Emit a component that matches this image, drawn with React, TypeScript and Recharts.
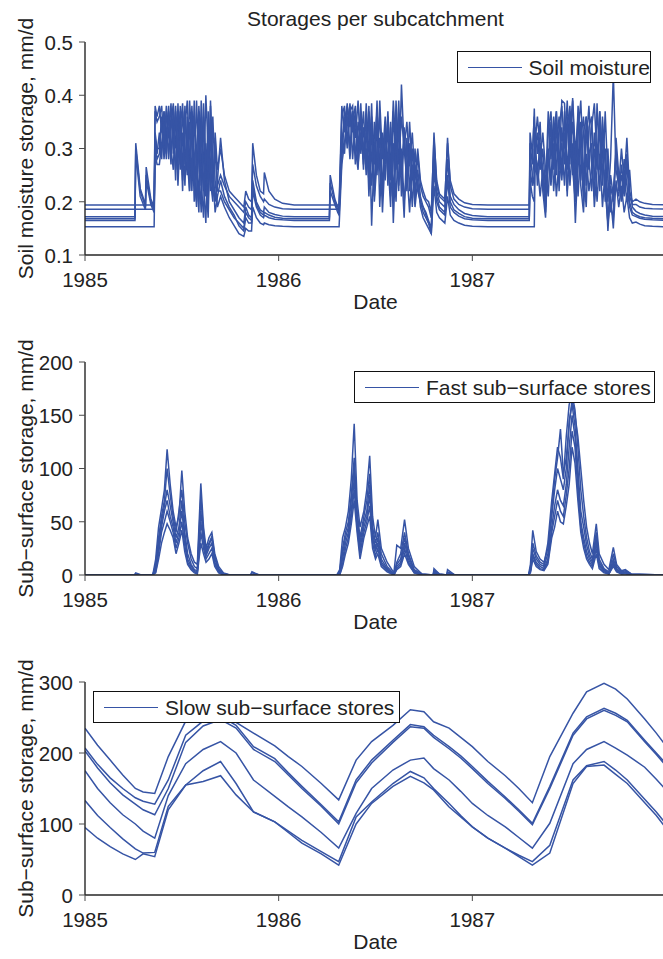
import React from "react";
import { LineChart, Line, XAxis, YAxis } from "recharts";

const LINE_COLOR = "#3654a5";
const INK = "#222222";
const FONT = "'Liberation Sans', Arial, Helvetica, sans-serif";

// panel geometry (px, relative to each panel)
const PANEL_H = 320;
const CHART_W = 690;
const PLOT_LEFT = 85;
const PLOT_RIGHT = 666;
const PLOT_TOP = 42;
const PLOT_BOTTOM = 255;

const X_DOMAIN: [number, number] = [1985, 1988];
const YEAR_TICKS = [1985, 1986, 1987];
const SERIES_KEYS = ["s1", "s2", "s3", "s4", "s5", "s6"];

// ---- soil moisture storage (decimal year, mm/d) ----
const smDates = [
  1985.0, 1985.258, 1985.262, 1985.285, 1985.312, 1985.316, 1985.34, 1985.357, 1985.362, 1985.372,
  1985.384, 1985.396, 1985.408, 1985.42, 1985.432, 1985.444, 1985.456, 1985.468, 1985.48, 1985.492,
  1985.504, 1985.516, 1985.528, 1985.54, 1985.552, 1985.564, 1985.576, 1985.588, 1985.6, 1985.612,
  1985.624, 1985.636, 1985.648, 1985.66, 1985.672, 1985.684,
  1985.7, 1985.72, 1985.745, 1985.77, 1985.795, 1985.82, 1985.83, 1985.845, 1985.86, 1985.866,
  1985.885, 1985.905, 1985.922, 1985.926, 1985.95, 1985.98, 1986.02, 1986.08,
  1986.2, 1986.262, 1986.266, 1986.29, 1986.305, 1986.312,
  1986.326, 1986.34, 1986.354, 1986.368, 1986.382, 1986.396, 1986.41, 1986.424, 1986.438, 1986.452,
  1986.466, 1986.48, 1986.494, 1986.508, 1986.522, 1986.536, 1986.55, 1986.564, 1986.578, 1986.592,
  1986.606, 1986.62, 1986.634, 1986.648, 1986.662, 1986.676, 1986.69, 1986.704, 1986.718, 1986.732,
  1986.746, 1986.76, 1986.774, 1986.788, 1986.802, 1986.816, 1986.83, 1986.844, 1986.858, 1986.872,
  1986.886,
  1986.905, 1986.93, 1986.96, 1987.0, 1987.08,
  1987.2, 1987.294, 1987.298, 1987.31, 1987.32, 1987.324,
  1987.336, 1987.35, 1987.364, 1987.378, 1987.392, 1987.406, 1987.42, 1987.434, 1987.448, 1987.462,
  1987.476, 1987.49, 1987.504, 1987.518, 1987.532, 1987.546, 1987.56, 1987.574, 1987.588, 1987.602,
  1987.616, 1987.63, 1987.644, 1987.658, 1987.672, 1987.686, 1987.7, 1987.714, 1987.728, 1987.742,
  1987.756, 1987.77, 1987.784, 1987.798, 1987.812, 1987.826,
  1987.845, 1987.865, 1987.89, 1987.93, 1988.0,
];

const sm1 = [
  0.194, 0.194, 0.194, 0.194, 0.194, 0.194, 0.194, 0.194, 0.38, 0.36,
  0.38, 0.33, 0.37, 0.31, 0.36, 0.34, 0.385, 0.3, 0.36, 0.26,
  0.37, 0.3, 0.25, 0.39, 0.31, 0.24, 0.2, 0.38, 0.29, 0.22,
  0.4, 0.3, 0.24, 0.2, 0.33, 0.26,
  0.3, 0.25, 0.22, 0.21, 0.2, 0.19, 0.22, 0.205, 0.2, 0.31,
  0.25, 0.22, 0.215, 0.255, 0.22, 0.205, 0.197, 0.194,
  0.194, 0.194, 0.194, 0.194, 0.194, 0.194,
  0.38, 0.33, 0.385, 0.3, 0.37, 0.32, 0.39, 0.29, 0.34,
  0.25, 0.37, 0.28, 0.21, 0.36, 0.27, 0.33, 0.24,
  0.36, 0.26, 0.39, 0.29, 0.22, 0.42, 0.3, 0.35, 0.27, 0.33,
  0.24, 0.3, 0.24, 0.22, 0.205, 0.2, 0.18,
  0.32, 0.24, 0.215, 0.21, 0.205, 0.31, 0.24,
  0.215, 0.205, 0.198, 0.195, 0.194,
  0.194, 0.194, 0.33, 0.29, 0.36, 0.3,
  0.33, 0.26, 0.3, 0.22, 0.37, 0.28, 0.36, 0.25, 0.34, 0.38,
  0.3, 0.39, 0.27, 0.395, 0.29, 0.36, 0.24, 0.33, 0.36, 0.26,
  0.34, 0.385, 0.28, 0.37, 0.25, 0.3, 0.2, 0.28, 0.44, 0.26,
  0.23, 0.3, 0.24, 0.32, 0.22, 0.2,
  0.205, 0.2, 0.197, 0.195, 0.194,
];

const sm2 = [
  0.186, 0.186, 0.186, 0.186, 0.186, 0.186, 0.186, 0.186, 0.37, 0.35,
  0.36, 0.38, 0.3, 0.37, 0.32, 0.385, 0.29, 0.36, 0.27, 0.38,
  0.24, 0.34, 0.39, 0.28, 0.22, 0.36, 0.27, 0.21, 0.39, 0.28,
  0.21, 0.37, 0.27, 0.21, 0.3, 0.23,
  0.25, 0.23, 0.21, 0.2, 0.19, 0.18, 0.2, 0.19, 0.185, 0.27,
  0.23, 0.21, 0.2, 0.205, 0.195, 0.19, 0.187, 0.186,
  0.186, 0.186, 0.186, 0.186, 0.186, 0.186,
  0.36, 0.38, 0.31, 0.385, 0.33, 0.37, 0.28, 0.36, 0.26,
  0.385, 0.29, 0.23, 0.35, 0.25, 0.39, 0.28, 0.36,
  0.25, 0.34, 0.2, 0.39, 0.27, 0.36, 0.3, 0.24, 0.35, 0.26,
  0.2, 0.29, 0.23, 0.21, 0.2, 0.19, 0.17,
  0.33, 0.23, 0.21, 0.205, 0.2, 0.32, 0.23,
  0.205, 0.195, 0.19, 0.187, 0.186,
  0.186, 0.186, 0.31, 0.27, 0.375, 0.31,
  0.36, 0.3, 0.24, 0.19, 0.33, 0.37, 0.27, 0.37, 0.26, 0.39,
  0.385, 0.26, 0.33, 0.39, 0.24, 0.38, 0.3, 0.2, 0.36, 0.28,
  0.22, 0.33, 0.26, 0.37, 0.29, 0.22, 0.16, 0.25, 0.21, 0.23,
  0.21, 0.27, 0.22, 0.29, 0.21, 0.195,
  0.195, 0.19, 0.188, 0.187, 0.186,
];

const sm3 = [
  0.172, 0.172, 0.31, 0.225, 0.195, 0.265, 0.205, 0.19, 0.33, 0.3,
  0.3, 0.36, 0.28, 0.33, 0.38, 0.29, 0.35, 0.24, 0.385, 0.27,
  0.33, 0.23, 0.36, 0.26, 0.38, 0.27, 0.19, 0.33, 0.23, 0.385,
  0.27, 0.2, 0.39, 0.27, 0.2, 0.24,
  0.32, 0.24, 0.2, 0.185, 0.17, 0.16, 0.19, 0.175, 0.17, 0.24,
  0.2, 0.185, 0.18, 0.19, 0.18, 0.176, 0.173, 0.172,
  0.172, 0.172, 0.25, 0.205, 0.19, 0.185,
  0.3, 0.37, 0.35, 0.38, 0.28, 0.36, 0.3, 0.385, 0.27,
  0.33, 0.26, 0.385, 0.22, 0.3, 0.36, 0.22, 0.33,
  0.28, 0.19, 0.37, 0.26, 0.39, 0.25, 0.34, 0.22, 0.31, 0.24,
  0.27, 0.22, 0.2, 0.19, 0.18, 0.165, 0.15,
  0.3, 0.22, 0.2, 0.195, 0.19, 0.28, 0.21,
  0.195, 0.185, 0.178, 0.174, 0.172,
  0.172, 0.172, 0.29, 0.25, 0.23, 0.34,
  0.29, 0.35, 0.22, 0.17, 0.3, 0.24, 0.33, 0.37, 0.22, 0.34,
  0.27, 0.36, 0.23, 0.31, 0.16, 0.28, 0.35, 0.22, 0.31, 0.38,
  0.27, 0.21, 0.385, 0.26, 0.33, 0.2, 0.3, 0.18, 0.22, 0.29,
  0.24, 0.2, 0.25, 0.2, 0.26, 0.19,
  0.182, 0.178, 0.175, 0.173, 0.172,
];

const sm4 = [
  0.168, 0.168, 0.3, 0.22, 0.19, 0.25, 0.2, 0.185, 0.32, 0.29,
  0.33, 0.28, 0.37, 0.29, 0.34, 0.27, 0.38, 0.26, 0.31, 0.37,
  0.25, 0.38, 0.28, 0.22, 0.37, 0.25, 0.39, 0.27, 0.18, 0.36,
  0.24, 0.17, 0.34, 0.23, 0.32, 0.22,
  0.22, 0.2, 0.185, 0.17, 0.16, 0.15, 0.18, 0.17, 0.165, 0.23,
  0.195, 0.18, 0.175, 0.18, 0.175, 0.171, 0.169, 0.168,
  0.168, 0.168, 0.235, 0.2, 0.185, 0.18,
  0.33, 0.29, 0.38, 0.34, 0.37, 0.27, 0.35, 0.31, 0.37,
  0.26, 0.38, 0.155, 0.3, 0.37, 0.26, 0.21, 0.35,
  0.23, 0.35, 0.16, 0.3, 0.36, 0.21, 0.33, 0.25, 0.28, 0.19,
  0.3, 0.23, 0.2, 0.18, 0.17, 0.16, 0.14,
  0.28, 0.21, 0.19, 0.185, 0.18, 0.25, 0.2,
  0.185, 0.178, 0.172, 0.169, 0.168,
  0.168, 0.168, 0.26, 0.23, 0.3, 0.26,
  0.25, 0.31, 0.26, 0.21, 0.27, 0.35, 0.22, 0.3, 0.36, 0.25,
  0.37, 0.22, 0.3, 0.35, 0.2, 0.33, 0.39, 0.26, 0.19, 0.34,
  0.36, 0.24, 0.3, 0.22, 0.36, 0.27, 0.145, 0.23, 0.2, 0.3,
  0.22, 0.25, 0.21, 0.27, 0.2, 0.18,
  0.175, 0.172, 0.17, 0.169, 0.168,
];

const sm5 = [
  0.165, 0.165, 0.29, 0.21, 0.185, 0.24, 0.195, 0.18, 0.31, 0.28,
  0.29, 0.35, 0.3, 0.38, 0.28, 0.36, 0.31, 0.37, 0.23, 0.34,
  0.385, 0.27, 0.33, 0.22, 0.36, 0.2, 0.3, 0.37, 0.24, 0.17,
  0.31, 0.23, 0.38, 0.25, 0.18, 0.21,
  0.24, 0.21, 0.19, 0.175, 0.155, 0.145, 0.17, 0.16, 0.16, 0.22,
  0.19, 0.175, 0.17, 0.175, 0.17, 0.167, 0.166, 0.165,
  0.165, 0.165, 0.22, 0.195, 0.18, 0.175,
  0.28, 0.36, 0.3, 0.37, 0.38, 0.3, 0.26, 0.37, 0.29,
  0.36, 0.21, 0.33, 0.27, 0.39, 0.19, 0.31, 0.27,
  0.37, 0.24, 0.31, 0.2, 0.34, 0.27, 0.17, 0.32, 0.22, 0.3,
  0.22, 0.26, 0.21, 0.19, 0.175, 0.16, 0.15,
  0.26, 0.2, 0.185, 0.18, 0.175, 0.24, 0.19,
  0.18, 0.173, 0.168, 0.166, 0.165,
  0.165, 0.165, 0.24, 0.21, 0.2, 0.33,
  0.23, 0.28, 0.33, 0.26, 0.21, 0.32, 0.26, 0.34, 0.28, 0.31,
  0.23, 0.34, 0.38, 0.25, 0.3, 0.21, 0.32, 0.36, 0.23, 0.29,
  0.31, 0.19, 0.26, 0.34, 0.23, 0.37, 0.24, 0.19, 0.17, 0.32,
  0.25, 0.21, 0.28, 0.23, 0.19, 0.175,
  0.172, 0.169, 0.167, 0.166, 0.165,
];

const sm6 = [
  0.153, 0.153, 0.153, 0.153, 0.153, 0.153, 0.153, 0.153, 0.29, 0.27,
  0.27, 0.31, 0.35, 0.28, 0.37, 0.3, 0.26, 0.38, 0.29, 0.35,
  0.22, 0.37, 0.26, 0.35, 0.24, 0.39, 0.25, 0.18, 0.35, 0.23,
  0.16, 0.33, 0.22, 0.36, 0.24, 0.19,
  0.21, 0.19, 0.17, 0.155, 0.14, 0.135, 0.15, 0.145, 0.145, 0.19,
  0.17, 0.16, 0.157, 0.16, 0.157, 0.155, 0.154, 0.153,
  0.153, 0.153, 0.153, 0.153, 0.153, 0.153,
  0.27, 0.31, 0.36, 0.28, 0.35, 0.38, 0.27, 0.33, 0.28,
  0.3, 0.24, 0.36, 0.2, 0.28, 0.32, 0.18, 0.29,
  0.33, 0.21, 0.28, 0.36, 0.23, 0.3, 0.2, 0.26, 0.18, 0.27,
  0.19, 0.24, 0.19, 0.17, 0.16, 0.15, 0.14,
  0.23, 0.18, 0.17, 0.165, 0.16, 0.21, 0.175,
  0.165, 0.16, 0.156, 0.154, 0.153,
  0.153, 0.153, 0.153, 0.153, 0.153, 0.29,
  0.27, 0.21, 0.26, 0.18, 0.29, 0.23, 0.31, 0.21, 0.28, 0.24,
  0.33, 0.21, 0.37, 0.26, 0.2, 0.29, 0.23, 0.18, 0.29, 0.22,
  0.26, 0.3, 0.2, 0.29, 0.19, 0.26, 0.16, 0.21, 0.15, 0.24,
  0.19, 0.23, 0.18, 0.21, 0.17, 0.16,
  0.162, 0.158, 0.155, 0.154, 0.153,
];

// ---- fast sub-surface stores ----
const fsDates = [
  1985.0, 1985.255, 1985.262, 1985.29, 1985.35, 1985.365, 1985.38, 1985.395, 1985.41, 1985.424,
  1985.44, 1985.455, 1985.47, 1985.485, 1985.5, 1985.515, 1985.53, 1985.548, 1985.565, 1985.58,
  1985.598, 1985.612, 1985.625, 1985.64, 1985.655, 1985.67, 1985.69, 1985.715, 1985.75, 1985.855,
  1985.862, 1985.9, 1986.3, 1986.315, 1986.33, 1986.345, 1986.36, 1986.375, 1986.39, 1986.405,
  1986.42, 1986.44, 1986.455, 1986.47, 1986.485, 1986.5, 1986.512, 1986.53, 1986.56, 1986.595,
  1986.61, 1986.63, 1986.65, 1986.67, 1986.7, 1986.74, 1986.798, 1986.802, 1986.83, 1986.868,
  1986.872, 1986.91, 1987.29, 1987.3, 1987.312, 1987.33, 1987.35, 1987.37, 1987.39, 1987.41,
  1987.425, 1987.44, 1987.455, 1987.47, 1987.485, 1987.5, 1987.515, 1987.53, 1987.545, 1987.56,
  1987.575, 1987.59, 1987.605, 1987.62, 1987.64, 1987.655, 1987.68, 1987.705, 1987.728, 1987.745,
  1987.77, 1987.79, 1987.82, 1988.0,
];

const fs1 = [
  0, 0, 2, 0, 0, 15, 45, 62, 80, 118,
  85, 60, 45, 55, 98, 60, 35, 20, 12, 10,
  86, 45, 25, 35, 40, 20, 8, 2, 0, 0,
  3, 0, 0, 5, 35, 45, 60, 90, 142, 70,
  45, 60, 80, 112, 55, 35, 52, 25, 12, 2,
  28, 25, 52, 25, 8, 1, 0, 6, 1, 0,
  5, 0, 0, 10, 42, 22, 15, 12, 25, 60,
  90, 110, 137, 95, 110, 140, 165, 150, 130, 100,
  70, 45, 30, 20, 48, 20, 10, 5, 26, 10,
  4, 5, 1, 0,
];

const fs2 = [
  0, 0, 1, 0, 0, 10, 35, 55, 70, 100,
  75, 55, 40, 60, 80, 50, 30, 15, 8, 6,
  73, 40, 22, 30, 36, 18, 6, 1, 0, 0,
  2, 0, 0, 3, 25, 40, 50, 75, 110, 60,
  35, 55, 70, 95, 45, 30, 40, 20, 8, 1,
  12, 20, 40, 20, 5, 1, 0, 4, 1, 0,
  3, 0, 0, 6, 30, 18, 12, 10, 30, 70,
  95, 120, 110, 90, 130, 160, 170, 155, 120, 80,
  55, 35, 22, 15, 40, 15, 6, 3, 20, 8,
  3, 4, 1, 0,
];

const fs3 = [
  0, 0, 0, 0, 0, 8, 30, 50, 65, 80,
  65, 50, 35, 45, 70, 40, 20, 10, 5, 4,
  60, 35, 20, 28, 35, 15, 5, 1, 0, 0,
  0, 0, 0, 2, 20, 35, 45, 70, 100, 55,
  30, 50, 60, 85, 40, 25, 35, 15, 6, 0,
  10, 15, 35, 18, 4, 0, 0, 3, 0, 0,
  2, 0, 0, 5, 25, 15, 10, 8, 20, 55,
  80, 100, 90, 80, 100, 145, 160, 140, 100, 60,
  45, 28, 18, 12, 35, 12, 5, 2, 15, 6,
  2, 3, 0, 0,
];

const fs4 = [
  0, 0, 0, 0, 0, 5, 25, 45, 60, 70,
  55, 45, 30, 40, 60, 35, 15, 8, 4, 3,
  50, 30, 18, 25, 30, 12, 4, 0, 0, 0,
  0, 0, 0, 1, 15, 30, 40, 60, 90, 50,
  25, 45, 55, 75, 35, 22, 30, 12, 5, 0,
  8, 12, 30, 15, 3, 0, 0, 2, 0, 0,
  1, 0, 0, 4, 20, 12, 8, 6, 15, 45,
  65, 80, 70, 65, 85, 120, 150, 130, 90, 50,
  35, 22, 15, 10, 30, 10, 4, 1, 12, 5,
  2, 2, 0, 0,
];

const fs5 = [
  0, 0, 0, 0, 0, 3, 20, 40, 50, 60,
  50, 40, 25, 35, 50, 28, 12, 6, 3, 2,
  40, 25, 15, 20, 25, 10, 3, 0, 0, 0,
  0, 0, 0, 0, 10, 25, 35, 55, 80, 45,
  20, 40, 50, 65, 30, 18, 25, 10, 4, 0,
  6, 10, 25, 12, 2, 0, 0, 1, 0, 0,
  1, 0, 0, 3, 18, 10, 6, 5, 12, 40,
  55, 70, 60, 55, 75, 100, 135, 120, 80, 45,
  30, 18, 12, 8, 25, 8, 3, 1, 10, 4,
  1, 2, 0, 0,
];

const fs6 = [
  0, 0, 0, 0, 0, 2, 15, 30, 40, 48,
  42, 35, 20, 30, 42, 22, 10, 5, 2, 1,
  30, 20, 12, 15, 20, 8, 2, 0, 0, 0,
  0, 0, 0, 0, 8, 20, 30, 48, 70, 40,
  15, 35, 45, 55, 25, 15, 20, 8, 3, 0,
  5, 8, 20, 10, 2, 0, 0, 1, 0, 0,
  0, 0, 0, 2, 15, 8, 5, 4, 10, 35,
  45, 60, 50, 48, 65, 85, 120, 105, 70, 40,
  25, 15, 10, 6, 20, 6, 2, 1, 8, 3,
  1, 1, 0, 0,
];

// ---- slow sub-surface stores ----
const slDates = [
  1985.0, 1985.065, 1985.13, 1985.195, 1985.26, 1985.3, 1985.36, 1985.43, 1985.52, 1985.61,
  1985.7, 1985.78, 1985.87, 1985.98, 1986.05, 1986.12, 1986.22, 1986.31, 1986.4, 1986.48,
  1986.59, 1986.68, 1986.75, 1986.8, 1986.88, 1986.94, 1987.0, 1987.08, 1987.17, 1987.24,
  1987.31, 1987.4, 1987.52, 1987.59, 1987.68, 1987.74, 1987.8, 1987.89, 1987.95, 1988.0,
];

const sl1 = [
  235, 211, 190, 169, 150, 145, 143, 195, 245, 262,
  268, 243, 228, 210, 195, 181, 157, 134, 190, 216,
  239, 261, 258, 244, 235, 222, 209, 188, 168, 150,
  130, 195, 256, 286, 298, 290, 276, 248, 228, 210,
];
const sl2 = [
  207, 184, 165, 150, 137, 132, 128, 162, 225, 245,
  252, 239, 209, 192, 172, 153, 127, 103, 162, 190,
  218, 240, 237, 225, 209, 196, 181, 160, 138, 120,
  101, 153, 228, 251, 263, 256, 246, 218, 200, 185,
];
const sl3 = [
  203, 179, 158, 141, 128, 120, 113, 150, 215, 238,
  247, 235, 205, 188, 169, 150, 125, 100, 158, 186,
  215, 237, 235, 222, 206, 193, 178, 157, 136, 118,
  99, 150, 225, 248, 260, 253, 244, 216, 198, 182,
];
const sl4 = [
  175, 150, 130, 113, 100, 90, 80, 140, 185, 205,
  216, 200, 162, 139, 124, 110, 88, 66, 115, 150,
  176, 190, 193, 178, 162, 146, 129, 112, 96, 81,
  66, 101, 185, 205, 216, 207, 197, 180, 163, 148,
];
const sl5 = [
  133, 112, 95, 79, 65, 59, 60, 125, 155, 175,
  188, 157, 117, 103, 90, 77, 61, 47, 110, 131,
  157, 174, 165, 150, 129, 112, 96, 80, 66, 56,
  47, 70, 162, 182, 188, 176, 162, 135, 117, 100,
];
const sl6 = [
  95, 80, 68, 58, 50, 58, 54, 120, 155, 160,
  168, 141, 117, 103, 88, 73, 58, 42, 100, 129,
  153, 167, 158, 148, 124, 110, 96, 80, 66, 54,
  42, 59, 157, 181, 183, 170, 157, 130, 112, 94,
];

type Row = { t: number; [key: string]: number };

function buildRows(dates: number[], series: number[][]): Row[] {
  return dates.map((t, i) => {
    const row: Row = { t };
    series.forEach((values, s) => {
      row[SERIES_KEYS[s]] = values[i];
    });
    return row;
  });
}

const soilRows = buildRows(smDates, [sm1, sm2, sm3, sm4, sm5, sm6]);
const fastRows = buildRows(fsDates, [fs1, fs2, fs3, fs4, fs5, fs6]);
const slowRows = buildRows(slDates, [sl1, sl2, sl3, sl4, sl5, sl6]);

const axisLine = { stroke: "#262626", strokeWidth: 1.4 };
const tickLine = { stroke: "#4a4a4a", strokeWidth: 1 };

function YearTick(props: any) {
  const { x, payload } = props;
  return (
    <text x={x} y={PLOT_BOTTOM + 31.5} textAnchor="middle" fontSize={20.5} fill={INK} fontFamily={FONT}>
      {payload.value}
    </text>
  );
}

function makeValueTick(format: (v: number) => string) {
  return function ValueTick(props: any) {
    const { x, y, payload } = props;
    return (
      <text x={x} y={y} dy="0.38em" textAnchor="end" fontSize={20.5} fill={INK} fontFamily={FONT}>
        {format(payload.value)}
      </text>
    );
  };
}

function YTitle({ text }: { text: string }) {
  const cx = 26;
  const cy = PLOT_TOP + (PLOT_BOTTOM - PLOT_TOP) / 2;
  return (
    <text
      x={cx}
      y={cy}
      dy="0.35em"
      transform={`rotate(-90 ${cx} ${cy})`}
      textAnchor="middle"
      fontSize={21}
      fill={INK}
      fontFamily={FONT}
    >
      {text}
    </text>
  );
}

function DateTitle() {
  return (
    <text x={(PLOT_LEFT + PLOT_RIGHT) / 2} y={309} textAnchor="middle" fontSize={21} fill={INK} fontFamily={FONT}>
      Date
    </text>
  );
}

function LegendBox({ text, left, width }: { text: string; left: number; width: number }) {
  return (
    <div
      style={{
        position: "absolute",
        left,
        top: 51,
        width,
        height: 32,
        boxSizing: "border-box",
        border: "1.3px solid #111",
        background: "#fff",
        display: "flex",
        alignItems: "center",
      }}
    >
      <span style={{ marginLeft: 10, width: 54, borderTop: `1.5px solid ${LINE_COLOR}` }} />
      <span style={{ marginLeft: 7, fontSize: 21, lineHeight: 1, whiteSpace: "nowrap", color: INK }}>{text}</span>
    </div>
  );
}

function StoragePanel({
  top,
  rows,
  yDomain,
  yTicks,
  yLabel,
  format,
  legend,
}: {
  top: number;
  rows: Row[];
  yDomain: [number, number];
  yTicks: number[];
  yLabel: string;
  format: (v: number) => string;
  legend: { text: string; left: number; width: number };
}) {
  const ValueTick = makeValueTick(format);
  return (
    <div style={{ position: "absolute", left: 0, top, width: CHART_W, height: PANEL_H }}>
      <LineChart
        width={CHART_W}
        height={PANEL_H}
        data={rows}
        margin={{ top: PLOT_TOP, right: CHART_W - PLOT_RIGHT, bottom: 0, left: 0 }}
      >
        <XAxis
          xAxisId="top"
          orientation="top"
          type="number"
          dataKey="t"
          domain={X_DOMAIN}
          allowDataOverflow
          ticks={YEAR_TICKS}
          interval={0}
          height={0}
          tick={false}
          tickSize={6}
          axisLine={axisLine}
          tickLine={tickLine}
        />
        <XAxis
          type="number"
          dataKey="t"
          domain={X_DOMAIN}
          allowDataOverflow
          ticks={YEAR_TICKS}
          interval={0}
          height={PANEL_H - PLOT_BOTTOM}
          tickSize={6}
          axisLine={axisLine}
          tickLine={tickLine}
          tick={<YearTick />}
          label={<DateTitle />}
        />
        <YAxis
          type="number"
          domain={yDomain}
          allowDataOverflow
          ticks={yTicks}
          interval={0}
          width={PLOT_LEFT}
          tickSize={6}
          tickMargin={6}
          axisLine={axisLine}
          tickLine={tickLine}
          tick={<ValueTick />}
          label={<YTitle text={yLabel} />}
        />
        {SERIES_KEYS.map((k) => (
          <Line
            key={k}
            type="linear"
            dataKey={k}
            stroke={LINE_COLOR}
            strokeWidth={1.5}
            dot={false}
            activeDot={false}
            isAnimationActive={false}
          />
        ))}
      </LineChart>
      <LegendBox {...legend} />
    </div>
  );
}

export default function App() {
  return (
    <div
      style={{
        position: "absolute",
        left: 0,
        top: 0,
        width: 663,
        height: 959,
        overflow: "hidden",
        background: "#fff",
        fontFamily: FONT,
      }}
    >
      <div
        style={{
          position: "absolute",
          left: PLOT_LEFT,
          top: 8,
          width: PLOT_RIGHT - PLOT_LEFT,
          textAlign: "center",
          fontSize: 21,
          lineHeight: "21px",
          color: INK,
          whiteSpace: "nowrap",
        }}
      >
        Storages per subcatchment
      </div>
      <StoragePanel
        top={0}
        rows={soilRows}
        yDomain={[0.1, 0.5]}
        yTicks={[0.1, 0.2, 0.3, 0.4, 0.5]}
        yLabel="Soil moisture storage, mm/d"
        format={(v) => v.toFixed(1)}
        legend={{ text: "Soil moisture", left: 457, width: 194 }}
      />
      <StoragePanel
        top={320}
        rows={fastRows}
        yDomain={[0, 200]}
        yTicks={[0, 50, 100, 150, 200]}
        yLabel="Sub−surface storage, mm/d"
        format={(v) => String(v)}
        legend={{ text: "Fast sub−surface stores", left: 354, width: 301 }}
      />
      <StoragePanel
        top={640}
        rows={slowRows}
        yDomain={[0, 300]}
        yTicks={[0, 100, 200, 300]}
        yLabel="Sub−surface storage, mm/d"
        format={(v) => String(v)}
        legend={{ text: "Slow sub−surface stores", left: 93, width: 307 }}
      />
    </div>
  );
}
